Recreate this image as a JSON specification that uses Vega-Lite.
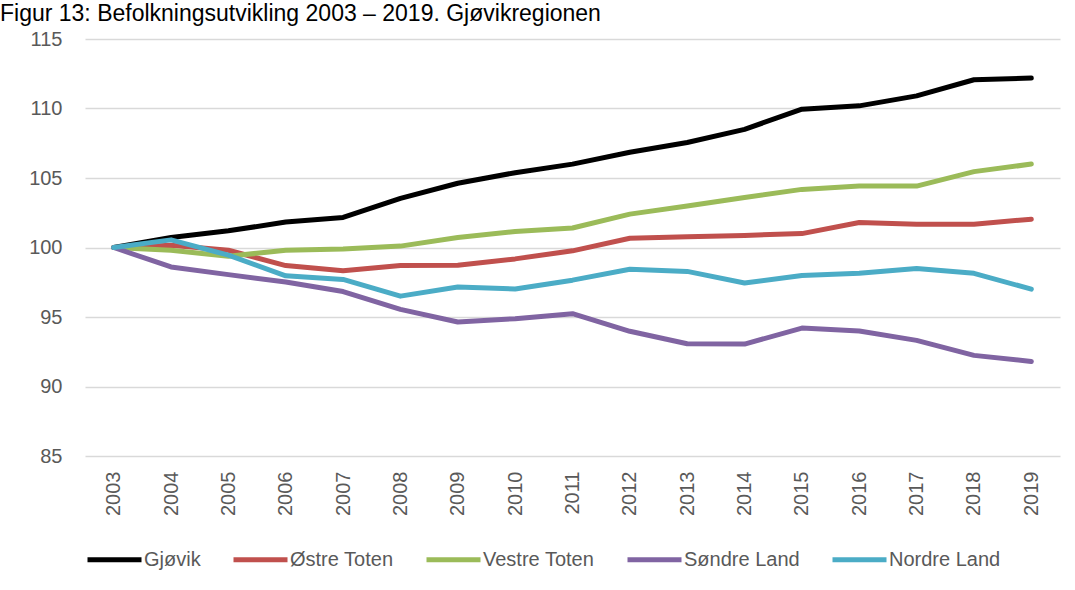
{
  "$schema": "https://vega.github.io/schema/vega-lite/v6.json",
  "width": 975,
  "height": 417,
  "autosize": {"type": "none"},
  "padding": {"left": 85, "top": 39, "right": 15, "bottom": 134},
  "background": "white",
  "title": {
    "text": "Figur 13: Befolkningsutvikling 2003 – 2019. Gjøvikregionen",
    "font": "Liberation Sans",
    "fontSize": 23,
    "fontWeight": "normal",
    "color": "#000000",
    "anchor": "start",
    "frame": "group",
    "dx": -85,
    "offset": 3
  },
  "config": {
    "view": {"stroke": null},
    "font": "Liberation Sans",
    "axis": {
      "labelFont": "Liberation Sans",
      "labelFontSize": 20,
      "labelColor": "#595959",
      "ticks": false,
      "tickSize": 0,
      "domain": false,
      "title": null
    },
    "legend": {
      "labelFont": "Liberation Sans",
      "labelFontSize": 20,
      "labelColor": "#595959",
      "symbolType": "stroke",
      "symbolSize": 2916,
      "symbolStrokeWidth": 5,
      "labelOffset": 0,
      "columnPadding": 22,
      "title": null
    }
  },
  "data": {
    "values": [
      {"year": "2003", "kommune": "Gjøvik", "value": 100},
      {"year": "2004", "kommune": "Gjøvik", "value": 100.72},
      {"year": "2005", "kommune": "Gjøvik", "value": 101.2},
      {"year": "2006", "kommune": "Gjøvik", "value": 101.83},
      {"year": "2007", "kommune": "Gjøvik", "value": 102.16},
      {"year": "2008", "kommune": "Gjøvik", "value": 103.53},
      {"year": "2009", "kommune": "Gjøvik", "value": 104.62},
      {"year": "2010", "kommune": "Gjøvik", "value": 105.38},
      {"year": "2011", "kommune": "Gjøvik", "value": 106.0},
      {"year": "2012", "kommune": "Gjøvik", "value": 106.85},
      {"year": "2013", "kommune": "Gjøvik", "value": 107.55},
      {"year": "2014", "kommune": "Gjøvik", "value": 108.5},
      {"year": "2015", "kommune": "Gjøvik", "value": 109.95},
      {"year": "2016", "kommune": "Gjøvik", "value": 110.19},
      {"year": "2017", "kommune": "Gjøvik", "value": 110.91},
      {"year": "2018", "kommune": "Gjøvik", "value": 112.07},
      {"year": "2019", "kommune": "Gjøvik", "value": 112.19},
      {"year": "2003", "kommune": "Østre Toten", "value": 100},
      {"year": "2004", "kommune": "Østre Toten", "value": 100.17},
      {"year": "2005", "kommune": "Østre Toten", "value": 99.8},
      {"year": "2006", "kommune": "Østre Toten", "value": 98.7},
      {"year": "2007", "kommune": "Østre Toten", "value": 98.32},
      {"year": "2008", "kommune": "Østre Toten", "value": 98.7},
      {"year": "2009", "kommune": "Østre Toten", "value": 98.73},
      {"year": "2010", "kommune": "Østre Toten", "value": 99.18},
      {"year": "2011", "kommune": "Østre Toten", "value": 99.76},
      {"year": "2012", "kommune": "Østre Toten", "value": 100.67},
      {"year": "2013", "kommune": "Østre Toten", "value": 100.77},
      {"year": "2014", "kommune": "Østre Toten", "value": 100.87},
      {"year": "2015", "kommune": "Østre Toten", "value": 101.0},
      {"year": "2016", "kommune": "Østre Toten", "value": 101.8},
      {"year": "2017", "kommune": "Østre Toten", "value": 101.68},
      {"year": "2018", "kommune": "Østre Toten", "value": 101.68},
      {"year": "2019", "kommune": "Østre Toten", "value": 102.04},
      {"year": "2003", "kommune": "Vestre Toten", "value": 100},
      {"year": "2004", "kommune": "Vestre Toten", "value": 99.8},
      {"year": "2005", "kommune": "Vestre Toten", "value": 99.37},
      {"year": "2006", "kommune": "Vestre Toten", "value": 99.8},
      {"year": "2007", "kommune": "Vestre Toten", "value": 99.9},
      {"year": "2008", "kommune": "Vestre Toten", "value": 100.1},
      {"year": "2009", "kommune": "Vestre Toten", "value": 100.72},
      {"year": "2010", "kommune": "Vestre Toten", "value": 101.15},
      {"year": "2011", "kommune": "Vestre Toten", "value": 101.4},
      {"year": "2012", "kommune": "Vestre Toten", "value": 102.4},
      {"year": "2013", "kommune": "Vestre Toten", "value": 102.98},
      {"year": "2014", "kommune": "Vestre Toten", "value": 103.6},
      {"year": "2015", "kommune": "Vestre Toten", "value": 104.18},
      {"year": "2016", "kommune": "Vestre Toten", "value": 104.42},
      {"year": "2017", "kommune": "Vestre Toten", "value": 104.42},
      {"year": "2018", "kommune": "Vestre Toten", "value": 105.46},
      {"year": "2019", "kommune": "Vestre Toten", "value": 106.0},
      {"year": "2003", "kommune": "Søndre Land", "value": 100},
      {"year": "2004", "kommune": "Søndre Land", "value": 98.6},
      {"year": "2005", "kommune": "Søndre Land", "value": 98.05},
      {"year": "2006", "kommune": "Søndre Land", "value": 97.52},
      {"year": "2007", "kommune": "Søndre Land", "value": 96.83},
      {"year": "2008", "kommune": "Søndre Land", "value": 95.55},
      {"year": "2009", "kommune": "Søndre Land", "value": 94.64},
      {"year": "2010", "kommune": "Søndre Land", "value": 94.88},
      {"year": "2011", "kommune": "Søndre Land", "value": 95.24},
      {"year": "2012", "kommune": "Søndre Land", "value": 93.97},
      {"year": "2013", "kommune": "Søndre Land", "value": 93.08},
      {"year": "2014", "kommune": "Søndre Land", "value": 93.05},
      {"year": "2015", "kommune": "Søndre Land", "value": 94.2},
      {"year": "2016", "kommune": "Søndre Land", "value": 93.99},
      {"year": "2017", "kommune": "Søndre Land", "value": 93.32},
      {"year": "2018", "kommune": "Søndre Land", "value": 92.24},
      {"year": "2019", "kommune": "Søndre Land", "value": 91.8},
      {"year": "2003", "kommune": "Nordre Land", "value": 100},
      {"year": "2004", "kommune": "Nordre Land", "value": 100.55},
      {"year": "2005", "kommune": "Nordre Land", "value": 99.45},
      {"year": "2006", "kommune": "Nordre Land", "value": 97.96},
      {"year": "2007", "kommune": "Nordre Land", "value": 97.7},
      {"year": "2008", "kommune": "Nordre Land", "value": 96.5},
      {"year": "2009", "kommune": "Nordre Land", "value": 97.16},
      {"year": "2010", "kommune": "Nordre Land", "value": 97.02},
      {"year": "2011", "kommune": "Nordre Land", "value": 97.65},
      {"year": "2012", "kommune": "Nordre Land", "value": 98.43},
      {"year": "2013", "kommune": "Nordre Land", "value": 98.28},
      {"year": "2014", "kommune": "Nordre Land", "value": 97.45},
      {"year": "2015", "kommune": "Nordre Land", "value": 97.99},
      {"year": "2016", "kommune": "Nordre Land", "value": 98.14},
      {"year": "2017", "kommune": "Nordre Land", "value": 98.49},
      {"year": "2018", "kommune": "Nordre Land", "value": 98.14},
      {"year": "2019", "kommune": "Nordre Land", "value": 97.0}
    ]
  },
  "mark": {"type": "line", "strokeWidth": 5, "strokeCap": "round", "strokeJoin": "round"},
  "encoding": {
    "x": {
      "field": "year",
      "type": "ordinal",
      "scale": {"type": "point", "padding": 0.5},
      "axis": {"labelAngle": -90, "labelPadding": 15, "grid": false}
    },
    "y": {
      "field": "value",
      "type": "quantitative",
      "scale": {"domain": [85, 115], "zero": false, "nice": false},
      "axis": {
        "values": [85, 90, 95, 100, 105, 110, 115],
        "grid": true,
        "gridColor": "#d9d9d9",
        "gridWidth": 1.5,
        "labelPadding": 23
      }
    },
    "color": {
      "field": "kommune",
      "type": "nominal",
      "scale": {
        "domain": ["Gjøvik", "Østre Toten", "Vestre Toten", "Søndre Land", "Nordre Land"],
        "range": ["#000000", "#c0504d", "#9bbb59", "#8064a2", "#4bacc6"]
      },
      "legend": {"orient": "bottom", "direction": "horizontal", "offset": 14}
    },
    "order": {"field": "kommune"}
  }
}
